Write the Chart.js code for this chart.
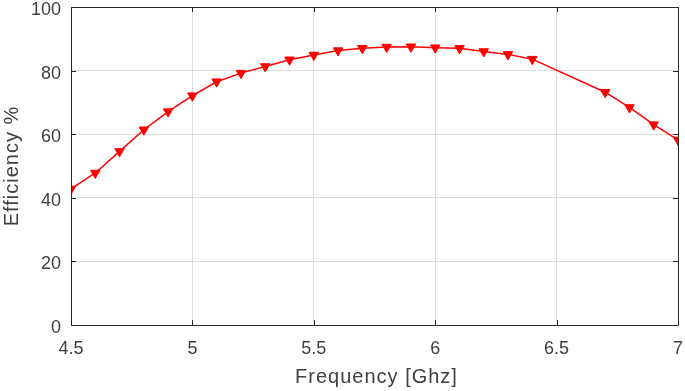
<!DOCTYPE html>
<html>
<head>
<meta charset="utf-8">
<script src="https://cdn.jsdelivr.net/npm/chart.js@4/dist/chart.umd.min.js"></script>
<style>
html,body{margin:0;padding:0;background:#fff;}
#wrap{width:685px;height:391px;position:relative;}
</style>
</head>
<body>
<div id="wrap"><canvas id="c" width="685" height="391"></canvas></div>
<script>
const frequency = [4.5,4.6,4.7,4.8,4.9,5.0,5.1,5.2,5.3,5.4,5.5,5.6,5.7,5.8,5.9,6.0,6.1,6.2,6.3,6.4,6.7,6.8,6.9,7.0];
const efficiency = [42.8,47.8,54.6,61.4,67.1,72.1,76.5,79.2,81.3,83.4,84.9,86.3,87.0,87.4,87.5,87.2,87.0,86.0,85.1,83.6,73.2,68.4,63.0,58.2];
const xTitle = 'Frequency [Ghz]';
const yTitle = 'Efficiency %';

const textColor = '#404040';
const axisColor = '#262626';

const framePlugin = {
  id: 'frame',
  afterDraw(chart) {
    const ctx = chart.ctx;
    const a = chart.chartArea;
    const xs = chart.scales.x, ys = chart.scales.y;
    ctx.save();
    ctx.strokeStyle = axisColor;
    ctx.lineWidth = 1;
    ctx.beginPath();
    ctx.rect(Math.round(a.left)+0.5, Math.round(a.top)+0.5, Math.round(a.right-a.left), Math.round(a.bottom-a.top));
    ctx.stroke();
    const tl = 5;
    ctx.beginPath();
    xs.ticks.forEach(t => {
      const px = Math.round(xs.getPixelForValue(t.value)) + 0.5;
      ctx.moveTo(px, a.bottom); ctx.lineTo(px, a.bottom - tl);
      ctx.moveTo(px, a.top); ctx.lineTo(px, a.top + tl);
    });
    ys.ticks.forEach(t => {
      const py = Math.round(ys.getPixelForValue(t.value)) + 0.5;
      ctx.moveTo(a.left, py); ctx.lineTo(a.left + tl, py);
      ctx.moveTo(a.right, py); ctx.lineTo(a.right - tl, py);
    });
    ctx.stroke();
    ctx.fillStyle = textColor;
    ctx.font = '20px "Liberation Sans", Arial, sans-serif';
    ctx.textAlign = 'center';
    ctx.textBaseline = 'middle';
    try { ctx.letterSpacing = '1px'; } catch(e) {}
    ctx.fillText(xTitle, (a.left + a.right) / 2 + 2, 377);
    ctx.translate(12, (a.top + a.bottom) / 2);
    ctx.rotate(-Math.PI / 2);
    ctx.fillText(yTitle, 0, 0);
    ctx.restore();
  }
};

function noPad(s) { s.paddingLeft = 0; s.paddingRight = 0; s.paddingTop = 0; s.paddingBottom = 0; }

new Chart(document.getElementById('c'), {
  type: 'line',
  data: {
    datasets: [{
      data: frequency.map((f, i) => ({x: f, y: efficiency[i]})),
      borderColor: '#ff0000',
      backgroundColor: '#ff0000',
      borderWidth: 1.5,
      pointStyle: 'triangle',
      rotation: 180,
      pointRadius: 5.5,
      pointHoverRadius: 5.5,
      pointBorderWidth: 1,
      tension: 0
    }]
  },
  plugins: [framePlugin],
  options: {
    responsive: false,
    animation: false,
    events: [],
    layout: { padding: { left: 0, top: 7, right: 7, bottom: 0 } },
    plugins: { legend: { display: false }, tooltip: { enabled: false } },
    scales: {
      x: {
        type: 'linear',
        min: 4.5, max: 7,
        afterFit(s) { s.height = 66; noPad(s); },
        ticks: { stepSize: 0.5, color: textColor, font: { family: '"Liberation Sans", Arial, sans-serif', size: 18 }, padding: 13, maxRotation: 0,
                 callback: v => String(Math.round(v * 10) / 10) },
        grid: { color: '#dedede', drawTicks: false },
        border: { display: false }
      },
      y: {
        min: 0, max: 100,
        afterFit(s) { s.width = 71; noPad(s); },
        ticks: { stepSize: 20, color: textColor, font: { family: '"Liberation Sans", Arial, sans-serif', size: 18, lineHeight: '6px' }, padding: 10,
                 callback: v => ['', String(v)] },
        grid: { color: '#dedede', drawTicks: false },
        border: { display: false }
      }
    }
  }
});
</script>
</body>
</html>
